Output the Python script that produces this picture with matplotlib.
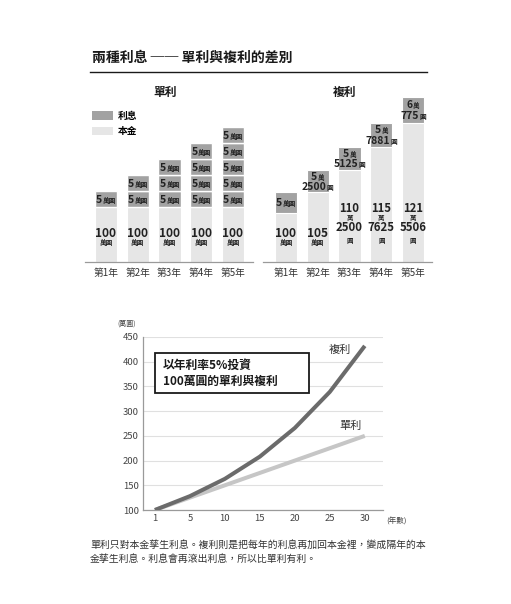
import matplotlib
matplotlib.use("Agg")
import matplotlib.pyplot as plt
from matplotlib.patches import Patch, Rectangle
from matplotlib.lines import Line2D

plt.rcParams['font.family'] = ['Noto Sans CJK TC', 'DejaVu Sans']

# ---- data ----
bar_years = ['第1年', '第2年', '第3年', '第4年', '第5年']

principal = 100
simple_interest = 5
simple_blocks = [1, 2, 3, 4, 5]

compound_principal = [100, 105, 110.25, 115.7625, 121.5506]
compound_interest = [5, 5.25, 5.5125, 5.7881, 6.0775]
cp_main = ['100', '105', '110', '115', '121']
cp_sub = ['', '', '2500', '7625', '5506']
ci_main = ['5', '5', '5', '5', '6']
ci_sub = ['', '2500', '5125', '7881', '775']

line_years = [0, 5, 10, 15, 20, 25, 30]
line_ticklabels = ['1', '5', '10', '15', '20', '25', '30']
simple_total = [100, 125, 150, 175, 200, 225, 250]
compound_total = [100, 128, 163, 208, 266, 339, 432]

caption = ('單利只對本金孳生利息。複利則是把每年的利息再加回本金裡，變成隔年的本\n'
           '金孳生利息。利息會再滾出利息，所以比單利有利。')

# ---- style ----
C_INT = '#a2a2a2'
C_PRIN = '#e6e6e6'
C_TXT = '#222222'
C_AXIS = '#9a9a9a'
C_COMP = '#6b6b6b'
C_SIMP = '#c6c6c6'

W, H = 511, 604
fig = plt.figure(figsize=(W / 100, H / 100), dpi=100)


def px_axes(left, top, right, bottom):
    return fig.add_axes([left / W, 1 - bottom / H, (right - left) / W, (bottom - top) / H])


def num_unit(ax, x, y, num, unit, dy, ns=7.5, us=4.8):
    # number in bold, small unit right after it, whole thing centred on x
    wn = 0.58 * ns * len(num)
    wu = us * len(unit)
    split = (wn - wu) / 2
    ax.annotate(num, (x, y), xytext=(split, dy), textcoords='offset points',
                ha='right', va='baseline', fontsize=ns, fontweight='bold',
                color=C_TXT, annotation_clip=False)
    if unit:
        ax.annotate(unit, (x, y), xytext=(split + 0.3, dy), textcoords='offset points',
                    ha='left', va='baseline', fontsize=us, fontweight='bold',
                    color=C_TXT, annotation_clip=False)


def stacked_label(ax, x, base, lines):
    # lines: (text, offset above baseline in pt, size); placed by baseline
    for txt, dy, size in lines:
        ax.annotate(txt, (x, base), xytext=(0, dy), textcoords='offset points',
                    ha='center', va='baseline', fontsize=size, fontweight='bold',
                    color=C_TXT, annotation_clip=False)


def style_bar_axes(ax):
    for s in ['top', 'right', 'left']:
        ax.spines[s].set_visible(False)
    ax.spines['bottom'].set_color(C_AXIS)
    ax.spines['bottom'].set_linewidth(0.9)
    ax.set_yticks([])
    ax.set_xticks(range(len(bar_years)))
    ax.set_xticklabels(bar_years, fontsize=7, color='#333333')
    ax.tick_params(axis='x', length=0, pad=4)
    ax.patch.set_visible(False)


bw = 0.7
xs = list(range(len(bar_years)))

# ---- simple interest bars ----
ax1 = px_axes(85, 95, 253, 262)
ax1.set_xlim(-0.661, 4.63)
ax1.set_ylim(82.8, 135.0)
base1 = ax1.get_ylim()[0]
ax1.bar(xs, [principal - base1] * 5, bottom=base1, width=bw, color=C_PRIN,
        edgecolor='white', linewidth=0.8)
for x, n in zip(xs, simple_blocks):
    for k in range(n):
        b = principal + k * simple_interest
        ax1.bar(x, simple_interest, bottom=b, width=bw, color=C_INT,
                edgecolor='white', linewidth=1.0)
        num_unit(ax1, x, b + simple_interest / 2, str(simple_interest), '萬圓', -2.7)
    stacked_label(ax1, x, base1, [('100', 18.0, 8.6), ('萬圓', 12.6, 4.8)])
style_bar_axes(ax1)
ax1.legend(handles=[Patch(facecolor=C_INT, edgecolor='none', label='利息'),
                    Patch(facecolor=C_PRIN, edgecolor='none', label='本金')],
           loc='upper left', bbox_to_anchor=(92 / W, 1 - 111 / H),
           bbox_transform=fig.transFigure, frameon=False, borderpad=0,
           borderaxespad=0, handlelength=2.2, handleheight=0.95,
           handletextpad=0.5, labelspacing=0.55,
           prop={'size': 7, 'weight': 'bold'})

# ---- compound interest bars ----
ax2 = px_axes(263, 95, 432, 262)
ax2.set_xlim(-0.724, 4.6)
ax2.set_ylim(88.33, 128.1)
base2 = ax2.get_ylim()[0]
ax2.bar(xs, [p - base2 for p in compound_principal], bottom=base2, width=bw,
        color=C_PRIN, edgecolor='white', linewidth=0.8)
ax2.bar(xs, compound_interest, bottom=compound_principal, width=bw,
        color=C_INT, edgecolor='white', linewidth=0.8)
for x, p, i, m, s, im, isub in zip(xs, compound_principal, compound_interest,
                                   cp_main, cp_sub, ci_main, ci_sub):
    mid = p + i / 2
    if isub:
        num_unit(ax2, x, mid, im, '萬', 1.0)
        num_unit(ax2, x, mid, isub, '圓', -6.4)
    else:
        num_unit(ax2, x, mid, im, '萬圓', -2.7)
    if s:
        stacked_label(ax2, x, base2, [(m, 36.0, 8.2), ('萬', 30.3, 4.6),
                                      (s, 22.0, 8.2), ('圓', 14.0, 4.6)])
    else:
        stacked_label(ax2, x, base2, [(m, 18.0, 8.6), ('萬圓', 12.6, 4.8)])
style_bar_axes(ax2)

# ---- line chart ----
ax3 = px_axes(143, 337, 383, 510)
ax3.plot(line_years, simple_total, color=C_SIMP, linewidth=2.9,
         solid_capstyle='butt', zorder=3)
ax3.plot(line_years, compound_total, color=C_COMP, linewidth=2.9,
         solid_capstyle='butt', zorder=4)
ax3.set_xlim(-1.7, 32.6)
ax3.set_ylim(100, 450)
ax3.set_yticks(range(100, 451, 50))
ax3.set_xticks(line_years)
ax3.set_xticklabels(line_ticklabels)
ax3.tick_params(length=0, labelsize=6.8, labelcolor='#444444', pad=3)
ax3.grid(axis='y', color='#e0e0e0', linewidth=0.8)
ax3.set_axisbelow(True)
for s in ['top', 'right']:
    ax3.spines[s].set_visible(False)
for s in ['left', 'bottom']:
    ax3.spines[s].set_color(C_AXIS)
    ax3.spines[s].set_linewidth(0.9)

ax3.text(26.5, 424, '複利', fontsize=8, color='#333333', ha='center', va='center')
ax3.text(27.9, 270, '單利', fontsize=8, color='#333333', ha='center', va='center')
ax3.text(-0.067, 1.075, '(萬圓)', transform=ax3.transAxes, fontsize=5,
         color='#444444', ha='center', va='center')
ax3.text(1.013, -0.064, '(年數)', transform=ax3.transAxes, fontsize=5.5,
         color='#444444', ha='left', va='center')

ax3.add_patch(Rectangle((0.05, 0.676), 0.642, 0.232, transform=ax3.transAxes,
                        facecolor='white', edgecolor='#1a1a1a', linewidth=1.3,
                        zorder=5))
ax3.text(0.083, 0.792, '以年利率5%投資\n100萬圓的單利與複利', transform=ax3.transAxes,
         fontsize=8.5, fontweight='bold', color='#1a1a1a', ha='left', va='center',
         linespacing=1.3, zorder=6)

# ---- titles / header ----
fig.text(92 / W, 1 - 58 / H, '兩種利息 ── 單利與複利的差別', fontsize=10,
         fontweight='bold', color='#1a1a1a', ha='left', va='center')
fig.add_artist(Line2D([90 / W, 427 / W], [1 - 72 / H, 1 - 72 / H],
                      color='#1a1a1a', linewidth=1.0))
fig.text(165 / W, 1 - 92 / H, '單利', fontsize=8.5, fontweight='bold',
         color='#1a1a1a', ha='center', va='center')
fig.text(345 / W, 1 - 92 / H, '複利', fontsize=8.5, fontweight='bold',
         color='#1a1a1a', ha='center', va='center')

fig.text(90 / W, 1 - 552 / H, caption, fontsize=7.1, color='#333333',
         ha='left', va='center', linespacing=1.45)

fig.savefig('out.png', dpi=100)
